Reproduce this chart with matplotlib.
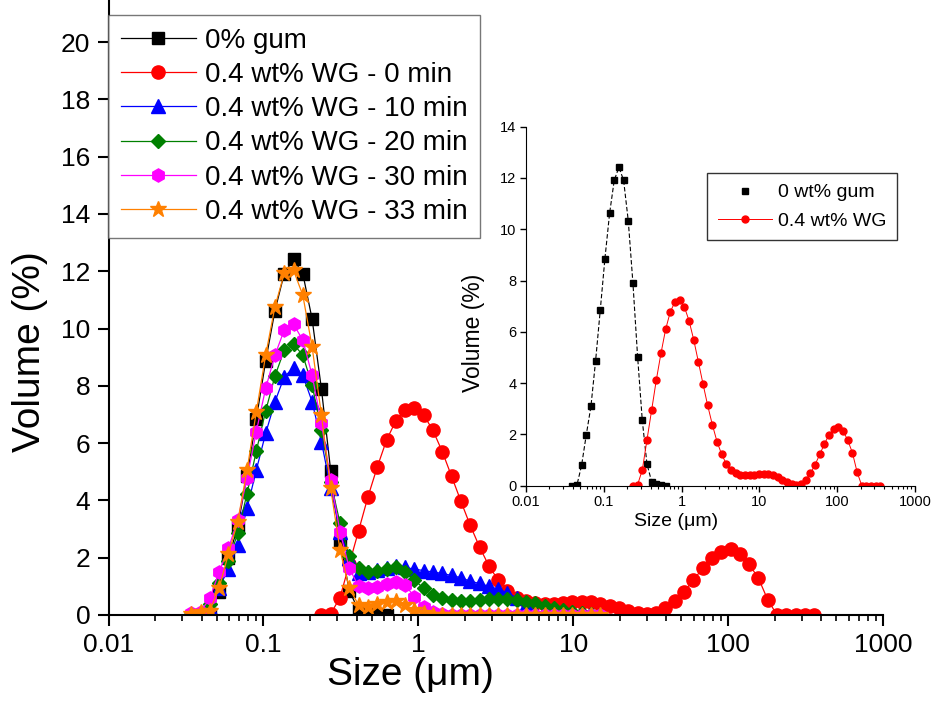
import numpy as np
import matplotlib
matplotlib.use("Agg")
import matplotlib.pyplot as plt
import matplotlib.ticker as mticker

plt.rcParams['font.family'] = ['Liberation Sans', 'DejaVu Sans']

# particle size classes (um)
size_um = [0.0342, 0.0393, 0.0451, 0.0518, 0.0595, 0.0683, 0.0784, 0.0900,
           0.1034, 0.1187, 0.1362, 0.1565, 0.1797, 0.2063, 0.2369, 0.2720,
           0.3123, 0.3586, 0.4117, 0.4728, 0.5429, 0.6234, 0.7158, 0.8219,
           0.9437, 1.0837, 1.2443, 1.4288, 1.6406, 1.8838, 2.1630, 2.4837,
           2.8519, 3.2746, 3.7600, 4.3174, 4.9574, 5.6922, 6.5360, 7.5049,
           8.6173, 9.8947, 11.3614, 13.0456, 14.9795, 17.2000, 19.7497, 22.6772,
           26.0387, 29.8985, 34.3304, 39.4193, 45.2625, 51.9719, 59.6758, 68.5217,
           78.6789, 90.3417, 103.7332, 119.1097, 136.7655, 157.0383, 180.3164, 207.0452,
           237.7360, 272.9762, 313.4402, 359.9025]

# 0% gum, classes 1..21
gum0 = [0.0, 0.02, 0.79, 1.98, 3.09, 4.86, 6.84, 8.86, 10.62, 11.91, 12.42,
        11.91, 10.33, 7.89, 5.03, 2.55, 0.85, 0.16, 0.05, 0.02, 0.0]

# 0.4 wt% WG - 0 min, classes 14..67
wg_0 = [0.0, 0.04, 0.61, 1.78, 2.94, 4.12, 5.16, 6.10, 6.78, 7.17, 7.24, 6.98,
        6.44, 5.70, 4.84, 3.97, 3.13, 2.38, 1.72, 1.22, 0.85, 0.60, 0.48, 0.42,
        0.40, 0.40, 0.42, 0.44, 0.45, 0.44, 0.40, 0.33, 0.24, 0.14, 0.07, 0.04,
        0.06, 0.24, 0.48, 0.82, 1.22, 1.63, 1.99, 2.21, 2.29, 2.14, 1.77, 1.28,
        0.53, 0.0, 0.0, 0.0, 0.0, 0.0]

# sheared samples, classes 0..44
wg_10 = [0.05, 0.08, 0.23, 0.95, 1.62, 2.44, 3.72, 5.06, 6.34, 7.44, 8.31, 8.63,
         8.37, 7.44, 6.05, 4.42, 2.91, 1.98, 1.45, 1.50, 1.58, 1.65, 1.72, 1.66,
         1.60, 1.55, 1.50, 1.45, 1.38, 1.30, 1.18, 1.10, 1.00, 0.90, 0.78, 0.60,
         0.35, 0.12, 0.02, 0.0, 0.0, 0.0, 0.0, 0.0, 0.0]
wg_20 = [0.03, 0.08, 0.40, 1.10, 1.90, 2.85, 4.24, 5.72, 7.12, 8.34, 9.24, 9.45,
         9.07, 8.02, 6.45, 4.65, 3.20, 2.05, 1.63, 1.51, 1.55, 1.62, 1.66, 1.50,
         1.22, 0.93, 0.70, 0.58, 0.52, 0.50, 0.50, 0.52, 0.55, 0.57, 0.56, 0.52,
         0.46, 0.42, 0.33, 0.25, 0.18, 0.12, 0.06, 0.02, 0.0]
wg_30 = [0.06, 0.12, 0.58, 1.51, 2.33, 3.31, 4.77, 6.40, 7.91, 9.07, 9.94, 10.15,
         9.59, 8.37, 6.69, 4.71, 2.91, 1.63, 1.00, 0.93, 0.97, 1.08, 1.15, 1.05,
         0.64, 0.29, 0.12, 0.05, 0.0, 0.0, 0.0, 0.0, 0.0, 0.0, 0.0, 0.0,
         0.0, 0.0, 0.0, 0.0, 0.0, 0.0, 0.0, 0.0, 0.0]
wg_33 = [0.05, 0.10, 0.15, 0.95, 2.14, 3.26, 5.06, 7.09, 9.07, 10.76, 11.92, 12.03,
         11.16, 9.36, 6.98, 4.42, 2.27, 0.93, 0.35, 0.29, 0.38, 0.47, 0.50, 0.35,
         0.17, 0.06, 0.0, 0.0, 0.0, 0.0, 0.0, 0.0, 0.0, 0.0, 0.0, 0.0,
         0.0, 0.0, 0.0, 0.0, 0.0, 0.0, 0.0, 0.0, 0.0]

labels = ["0% gum", "0.4 wt% WG - 0 min", "0.4 wt% WG - 10 min",
          "0.4 wt% WG - 20 min", "0.4 wt% WG - 30 min", "0.4 wt% WG - 33 min"]
inset_labels = ["0 wt% gum", "0.4 wt% WG"]

size = np.array(size_um)
x_gum = size[1:22]
x_wg0 = size[14:68]
x_shear = size[0:45]

W, H = 933, 717
fig = plt.figure(figsize=(W / 100, H / 100), dpi=100)

def fx(px):
    return px / W

def fy(py):
    return 1 - py / H

# ---- main axes ----
ax = fig.add_axes([fx(108.5), fy(615), fx(883) - fx(108.5), fy(0) - fy(615)])
styles = [
    dict(color="black", marker="s", ms=8.5),
    dict(color="red", marker="o", ms=9.5),
    dict(color="blue", marker="^", ms=9.5),
    dict(color="green", marker="D", ms=7.0),
    dict(color="magenta", marker="h", ms=9.5),
    dict(color="#ff8000", marker="*", ms=12),
]
series = [(x_gum, gum0), (x_wg0, wg_0), (x_shear, wg_10),
          (x_shear, wg_20), (x_shear, wg_30), (x_shear, wg_33)]
for (xs, ys), st, lab in zip(series, styles, labels):
    ax.plot(xs, ys, color=st["color"], marker=st["marker"], ms=st["ms"],
            mec=st["color"], mfc=st["color"], lw=0.9, label=lab)

ax.set_xscale("log")
ax.set_xlim(0.01, 1000)
ax.set_ylim(0, 615 / 28.65)
ax.set_yticks(np.arange(0, 21, 2))
ax.xaxis.set_major_formatter(mticker.FuncFormatter(lambda v, p: "%g" % v))
ax.xaxis.set_minor_locator(mticker.LogLocator(base=10, subs=np.arange(2, 10)))
ax.xaxis.set_minor_formatter(mticker.NullFormatter())
for s in ["top", "right"]:
    ax.spines[s].set_visible(False)
for s in ["left", "bottom"]:
    ax.spines[s].set_linewidth(1.5)
ax.tick_params(which="major", direction="out", length=8, width=1.5,
               labelsize=19, pad=5)
ax.tick_params(which="minor", direction="out", length=4.5, width=1.2)
ax.set_xlabel("Size (\u03bcm)", fontsize=28)
ax.set_ylabel("Volume (%)", fontsize=28)
ax.xaxis.set_label_coords((410 - 108.5) / 774.5, -0.068)
ax.yaxis.set_label_coords((48 - 108.5) / 774.5, 1 - 352 / 615)

leg = fig.legend(*ax.get_legend_handles_labels(), loc="upper left",
                 bbox_to_anchor=(fx(108), fy(15)), borderaxespad=0,
                 fontsize=20, frameon=True, fancybox=False, handlelength=2.7,
                 handletextpad=0.35, labelspacing=0.3, borderpad=0.45)
leg.get_frame().set_edgecolor("#555555")
leg.get_frame().set_linewidth(1.0)

# ---- inset ----
ai = fig.add_axes([fx(526), fy(485.7), fx(915) - fx(526), fy(126.7) - fy(485.7)])
ai.plot(x_gum, gum0, color="black", ls=(0, (4, 2)), lw=0.8)
ai.plot(x_gum, gum0, color="black", ls="none", marker="s", ms=4.2,
        label=inset_labels[0])
ai.plot(x_wg0, wg_0, color="red", ls="-", lw=0.7, marker="o", ms=5,
        label=inset_labels[1])
ai.set_xscale("log")
ai.set_xlim(0.01, 1000)
ai.set_ylim(0, 14)
ai.set_yticks(np.arange(0, 15, 2))
ai.xaxis.set_major_formatter(mticker.FuncFormatter(lambda v, p: "%g" % v))
ai.xaxis.set_minor_locator(mticker.LogLocator(base=10, subs=np.arange(2, 10)))
ai.xaxis.set_minor_formatter(mticker.NullFormatter())
for s in ["top", "right"]:
    ai.spines[s].set_visible(False)
ai.patch.set_alpha(0)
ai.tick_params(which="major", direction="out", length=4, width=1, labelsize=10.5,
               pad=3)
ai.tick_params(which="minor", direction="out", length=2.5, width=0.8)
ai.set_xlabel("Size (\u03bcm)", fontsize=14)
ai.set_ylabel("Volume (%)", fontsize=16.5)
ai.xaxis.set_label_coords((676 - 526) / 389, -0.075)
ai.yaxis.set_label_coords((485 - 526) / 389, (485.7 - 333) / 359)

ileg = fig.legend(*ai.get_legend_handles_labels(), loc="upper left",
                  bbox_to_anchor=(fx(707), fy(173)), borderaxespad=0,
                  fontsize=14, frameon=True, fancybox=False, handlelength=2.8,
                  handletextpad=0.3, labelspacing=0.55, borderpad=0.55)
ileg.get_frame().set_edgecolor("black")
ileg.get_frame().set_linewidth(1.0)

fig.savefig("out.png", dpi=100, facecolor="white")
